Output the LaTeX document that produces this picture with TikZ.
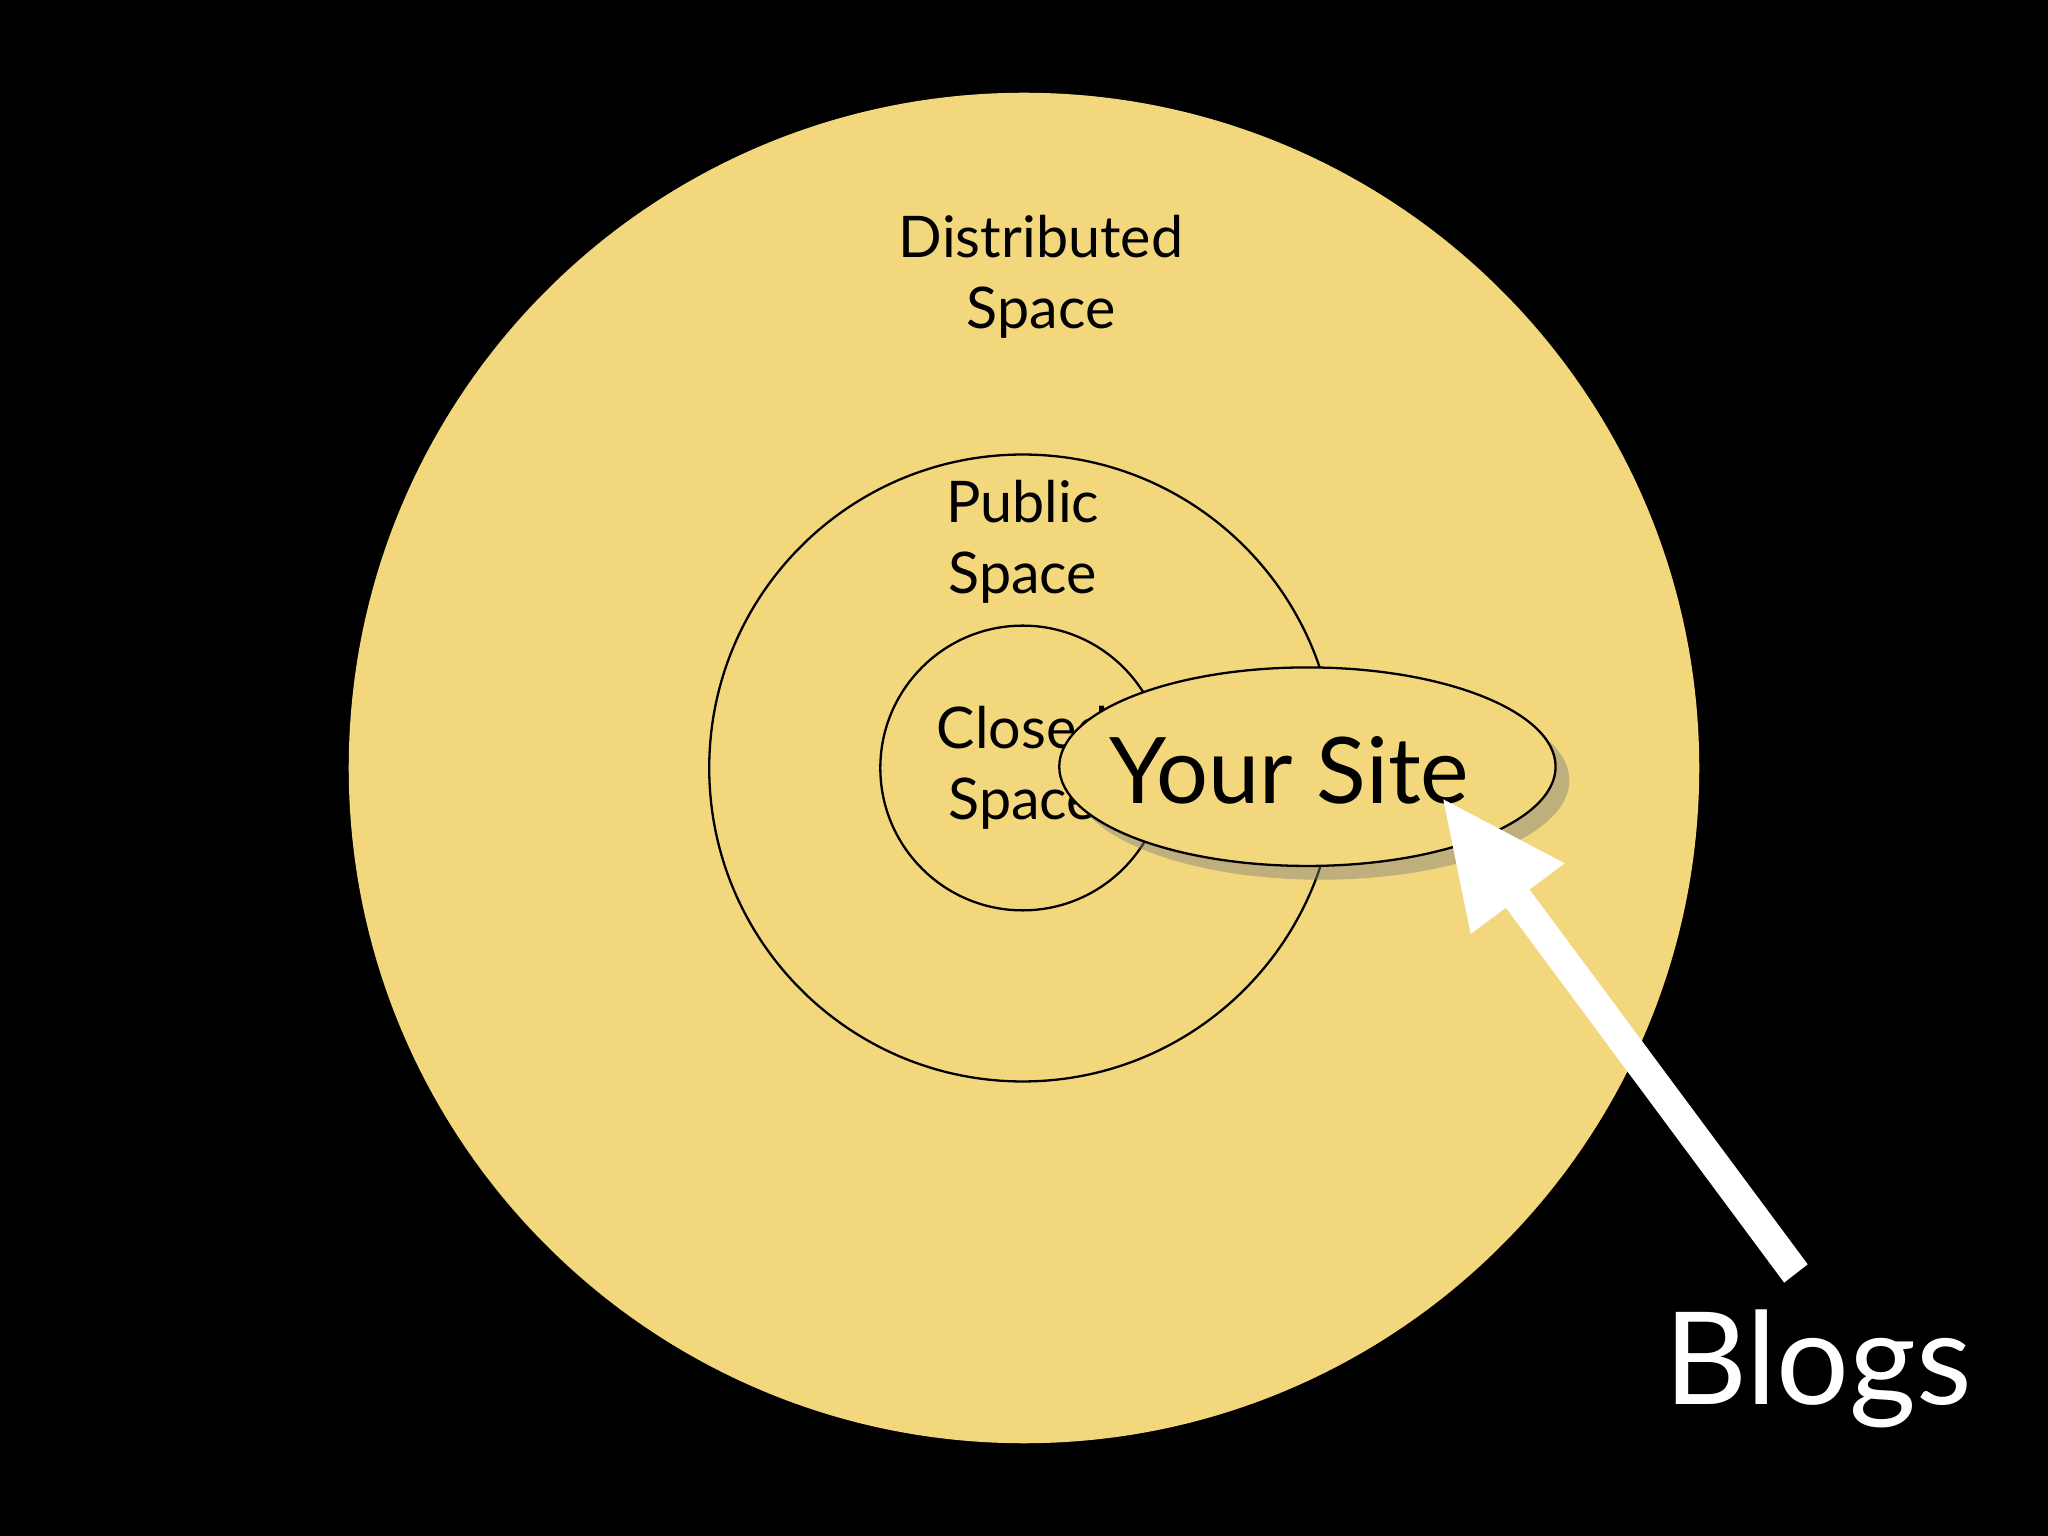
\documentclass[tikz,border=0pt]{standalone}
\usepackage{fontspec}
\setmainfont{Lato}
\usetikzlibrary{shadows}
\definecolor{sand}{HTML}{F3D77C}
\begin{document}
\begin{tikzpicture}[x=0.01cm,y=-0.01cm,
  ring/.style={draw=black,line width=0.5pt},
  lbl/.style={font=\fontsize{12.5}{15.5}\selectfont,align=center,text=black}]
\fill[black] (0,0) rectangle (1568,1176);
\fill[sand] (784,588) circle (517);
\draw[ring] (783,588) circle (240);
\draw[ring] (783,588) circle (109);
\node[lbl] (dist) at (797,212) {Distributed\\Space};
\node[lbl] (pub) at (783,415) {Public\\Space};
\node[lbl] (close) at (783,588) {Closed\\Space};
\fill[sand,drop shadow={shadow xshift=3pt,shadow yshift=-3pt,opacity=0.45}] (1001,587) ellipse (190 and 76);
\draw[ring,fill=sand] (1001,587) ellipse (190 and 76);
\node[font=\fontsize{20}{24}\selectfont] (ys) at (987,590) {Your Site};
\coordinate (tip) at (1105,612);
\fill[white] (tip) -- (1198,661) -- (1171,681) -- (1384,968) -- (1366,982) -- (1153,695) -- (1126,715) -- cycle;
\node[font=\fontsize{28}{34}\selectfont,text=white] (blogs) at (1392,1048) {Blogs};
\end{tikzpicture}
\end{document}
